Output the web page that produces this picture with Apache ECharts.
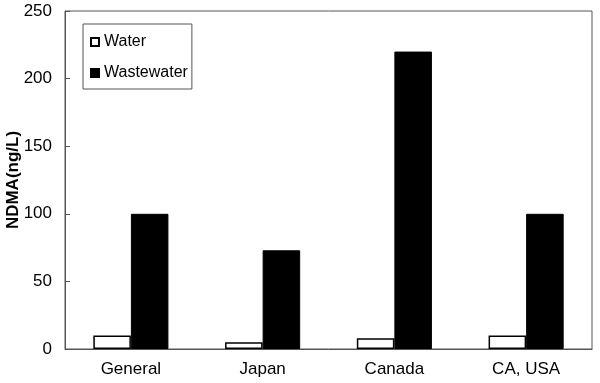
<!DOCTYPE html>
<html><head><meta charset="utf-8">
<script src="https://cdn.jsdelivr.net/npm/echarts@6/dist/echarts.min.js"></script>
<style>html,body{margin:0;padding:0;background:#fff}#c{width:600px;height:383px}</style>
</head><body><div id="c"></div>
<script>
var categories = ['General', 'Japan', 'Canada', 'CA, USA'];
var waterValues = [10, 5, 8, 10];
var wastewaterValues = [100, 73, 220, 100];
var yTicks = [0, 50, 100, 150, 200, 250];

var chart = echarts.init(document.getElementById('c'));
var font = 'Liberation Sans, Arial, sans-serif';
chart.setOption({
  animation: false,
  backgroundColor: '#fff',
  textStyle: {fontFamily: font},
  grid: {left: 65, top: 11, right: 8, bottom: 34, show: true, borderColor: '#555', borderWidth: 1,
         containLabel: false, outerBoundsMode: 'none'},
  legend: {
    orient: 'vertical', left: 83, top: 24,
    padding: [10, 4, 8, 7], itemGap: 15, itemWidth: 8, itemHeight: 8,
    borderColor: '#555', borderWidth: 1, icon: 'rect',
    textStyle: {fontFamily: font, fontSize: 16, color: '#000'},
    data: ['Water', 'Wastewater']
  },
  xAxis: {
    type: 'category', data: categories,
    axisLine: {show: true, lineStyle: {color: '#555'}},
    axisTick: {show: false},
    axisLabel: {color: '#000', fontSize: 17, margin: 12, fontFamily: font}
  },
  yAxis: {
    type: 'value', min: yTicks[0], max: yTicks[yTicks.length - 1], interval: 50,
    name: 'NDMA(ng/L)', nameLocation: 'middle', nameGap: 43, nameRotate: 90,
    nameMoveOverlap: false,
    nameTextStyle: {fontWeight: 'bold', fontSize: 17, color: '#000', fontFamily: font},
    axisLine: {show: true, lineStyle: {color: '#555'}},
    axisTick: {show: true, inside: true, length: 5, lineStyle: {color: '#555'}},
    splitLine: {show: false},
    axisLabel: {color: '#000', fontSize: 17, margin: 13, fontFamily: font}
  },
  series: [
    {name: 'Water', type: 'bar', data: waterValues, barGap: '0%', barCategoryGap: '43%',
     itemStyle: {color: '#fff', borderColor: '#000', borderWidth: 1.5}},
    {name: 'Wastewater', type: 'bar', data: wastewaterValues,
     itemStyle: {color: '#000', borderColor: '#000', borderWidth: 1}}
  ]
});
</script></body></html>
